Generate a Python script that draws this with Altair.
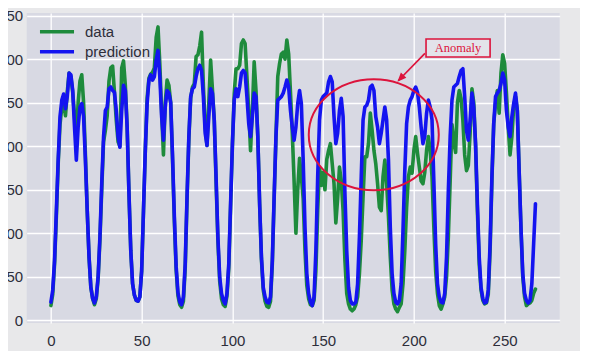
import altair as alt
import pandas as pd

# ---------------- data ----------------
x_ticks = [0, 50, 100, 150, 200, 250]
y_ticks = [0, 50, 100, 150, 200, 250, 300, 350]
series_names = ["data", "prediction"]
series_colors = ["#1e8b3c", "#1414f0"]

prediction = [
    21, 35, 69, 126, 184, 234, 253, 260, 243, 257, 284, 282, 264, 222, 184, 222, 245, 249, 234, 184, 126, 73, 38, 25,
    20, 27, 50, 96, 157, 211, 241, 245, 266, 268, 264, 262, 241, 211, 199, 241, 270, 264, 222, 146, 80, 42, 29, 23,
    22, 27, 57, 126, 195, 249, 276, 282, 276, 280, 299, 310, 280, 234, 207, 245, 264, 261, 250, 190, 120, 62, 32, 21,
    18, 27, 65, 142, 211, 257, 266, 268, 280, 289, 293, 287, 257, 215, 201, 234, 266, 261, 230, 165, 96, 50, 31, 23,
    19, 31, 65, 134, 203, 253, 266, 257, 268, 284, 287, 284, 257, 226, 211, 234, 261, 257, 211, 134, 73, 38, 27, 21,
    20, 27, 69, 142, 211, 253, 255, 257, 261, 268, 276, 268, 241, 222, 207, 222, 249, 264, 249, 184, 107, 54, 31, 21,
    17, 27, 80, 165, 230, 253, 257, 259, 261, 274, 280, 274, 234, 203, 215, 241, 255, 234, 146, 80, 38, 23, 19, 19,
    21, 42, 96, 165, 230, 245, 247, 253, 268, 270, 264, 234, 222, 203, 215, 230, 245, 230, 184, 107, 54, 31, 21, 19,
    23, 42, 103, 172, 226, 245, 253, 257, 264, 268, 262, 245, 222, 203, 211, 238, 253, 245, 230, 160, 88, 42, 27, 21,
    20, 31, 73, 149, 211, 253, 268, 270, 272, 280, 287, 289, 257, 218, 207, 230, 261, 245, 203, 134, 73, 38, 25, 20,
    21, 35, 88, 165, 226, 257, 261, 264, 272, 284, 276, 241, 222, 211, 234, 249, 261, 241, 172, 107, 54, 31, 23, 20,
    23, 42, 88, 134,
]

observed = [
    17, 30, 65, 120, 180, 225, 245, 250, 235, 262, 284, 280, 262, 235, 210, 250, 275, 282, 250, 190, 126, 73, 38, 25,
    18, 25, 48, 92, 150, 205, 218, 235, 275, 290, 292, 262, 230, 205, 200, 290, 298, 270, 222, 146, 80, 42, 29, 23,
    22, 27, 57, 126, 195, 255, 278, 283, 285, 290, 325, 337, 295, 240, 190, 250, 276, 270, 250, 185, 115, 58, 28, 18,
    15, 22, 60, 138, 208, 255, 268, 272, 303, 305, 315, 331, 270, 222, 201, 250, 299, 265, 230, 160, 92, 45, 25, 18,
    16, 28, 60, 130, 200, 260, 289, 289, 293, 318, 322, 318, 280, 241, 195, 241, 297, 264, 211, 134, 70, 35, 22, 16,
    15, 22, 65, 140, 210, 280, 295, 306, 308, 300, 322, 306, 262, 215, 160, 100, 150, 186, 165, 140, 80, 40, 25, 18,
    17, 23, 57, 126, 176, 155, 170, 150, 185, 195, 203, 180, 157, 112, 140, 176, 160, 126, 69, 31, 19, 13, 11, 13,
    18, 27, 54, 92, 142, 188, 188, 203, 238, 218, 195, 180, 157, 130, 126, 165, 184, 157, 119, 73, 35, 19, 13, 10,
    15, 19, 42, 80, 130, 165, 176, 169, 195, 211, 192, 176, 160, 157, 170, 195, 211, 195, 165, 107, 57, 31, 17, 13,
    19, 27, 50, 96, 160, 225, 205, 193, 250, 264, 255, 230, 190, 172, 178, 215, 266, 250, 200, 126, 65, 35, 23, 19,
    20, 30, 80, 160, 226, 249, 264, 238, 284, 305, 295, 261, 222, 190, 211, 245, 257, 241, 172, 107, 50, 27, 17, 19,
    20, 23, 31, 36,
]

# annotation (data units)
ellipse_center = {"x": [177.9], "y": [213.2]}
arrow_line = {"x": [206.1], "y": [306.7], "x2": [191.5], "y2": [275.5]}
arrow_tip = {"x": [190.9], "y": [274.1]}
label_box = {"x": [206.7], "x2": [242.0], "y": [323.2], "y2": [302.5]}
label_text = {"x": [224.3], "y": [312.8], "t": ["Anomaly"]}

CRIMSON = "#dc143c"
FONT = "Liberation Sans"
LABEL_COLOR = "#2e2e3a"

n = len(prediction)
df = pd.DataFrame({
    "x": list(range(n)) + list(range(n)),
    "value": observed + prediction,
    "series": ["data"] * n + ["prediction"] * n,
})

xs = alt.Scale(domain=[-13.35, 280.35], nice=False, zero=False)
ys = alt.Scale(domain=[-3, 353], nice=False, zero=False)
x_axis = alt.Axis(values=x_ticks, grid=True, ticks=False, domain=False, title=None,
                  labelPadding=11, labelFontSize=15, labelFont=FONT, labelColor=LABEL_COLOR)
y_axis = alt.Axis(values=y_ticks, grid=True, ticks=False, domain=False, title=None,
                  labelPadding=4, labelFontSize=15, labelFont=FONT, labelColor=LABEL_COLOR)


def X(field):
    return alt.X(field, scale=xs, axis=x_axis, title=None)


def Y(field):
    return alt.Y(field, scale=ys, axis=y_axis, title=None)


lines = alt.Chart(df).mark_line(strokeWidth=3.6, strokeJoin="round", strokeCap="round").encode(
    x=X("x:Q"),
    y=Y("value:Q"),
    color=alt.Color("series:N",
                    scale=alt.Scale(domain=series_names, range=series_colors),
                    legend=alt.Legend(title=None, orient="none", legendX=13, legendY=9.2,
                                      padding=0, symbolType="M-2.27,0H2.27", symbolSize=225,
                                      symbolStrokeWidth=3.5, symbolOffset=7.8, labelOffset=18.5,
                                      rowPadding=2, labelFontSize=15, labelFont=FONT,
                                      labelColor=LABEL_COLOR)),
)

ellipse_path = ("M-1,0 C-1,-0.4716 -0.5523,-0.854 0,-0.854 C0.5523,-0.854 1,-0.4716 1,0 "
                "C1,0.4716 0.5523,0.854 0,0.854 C-0.5523,0.854 -1,0.4716 -1,0 Z")

ellipse = alt.Chart(pd.DataFrame(ellipse_center)).mark_point(
    shape=ellipse_path, size=16900, filled=False, color=CRIMSON, strokeWidth=2, opacity=1
).encode(x=X("x:Q"), y=Y("y:Q"))

arrow = alt.Chart(pd.DataFrame(arrow_line)).mark_rule(color=CRIMSON, strokeWidth=1.7).encode(
    x=X("x:Q"), y=Y("y:Q"), x2="x2:Q", y2="y2:Q")

head = alt.Chart(pd.DataFrame(arrow_tip)).mark_point(
    shape="M0,0 L-0.42,1 L0.42,1 Z", size=324, filled=True, color=CRIMSON, opacity=1, angle=224
).encode(x=X("x:Q"), y=Y("y:Q"))

box = alt.Chart(pd.DataFrame(label_box)).mark_rect(fill="#e3e3ea", stroke=CRIMSON, strokeWidth=1.6).encode(
    x=X("x:Q"), x2="x2:Q", y=Y("y:Q"), y2="y2:Q")

text = alt.Chart(pd.DataFrame(label_text)).mark_text(
    font="Liberation Serif", fontSize=12.5, color=CRIMSON
).encode(x=X("x:Q"), y=Y("y:Q"), text="t:N")

chart = alt.layer(lines, ellipse, arrow, head, box, text).properties(
    width=533, height=310,
    autosize=alt.AutoSizeParams(type="none"),
    padding={"left": 18.7, "top": 5, "right": 20, "bottom": 28},
    background="#e8e8ea",
).configure_view(fill="#d8d9e3", stroke=None).configure_axis(
    gridColor="#ffffff", gridWidth=1.3
)

chart.save("out.html", embed_options={"renderer": "svg", "actions": False})
